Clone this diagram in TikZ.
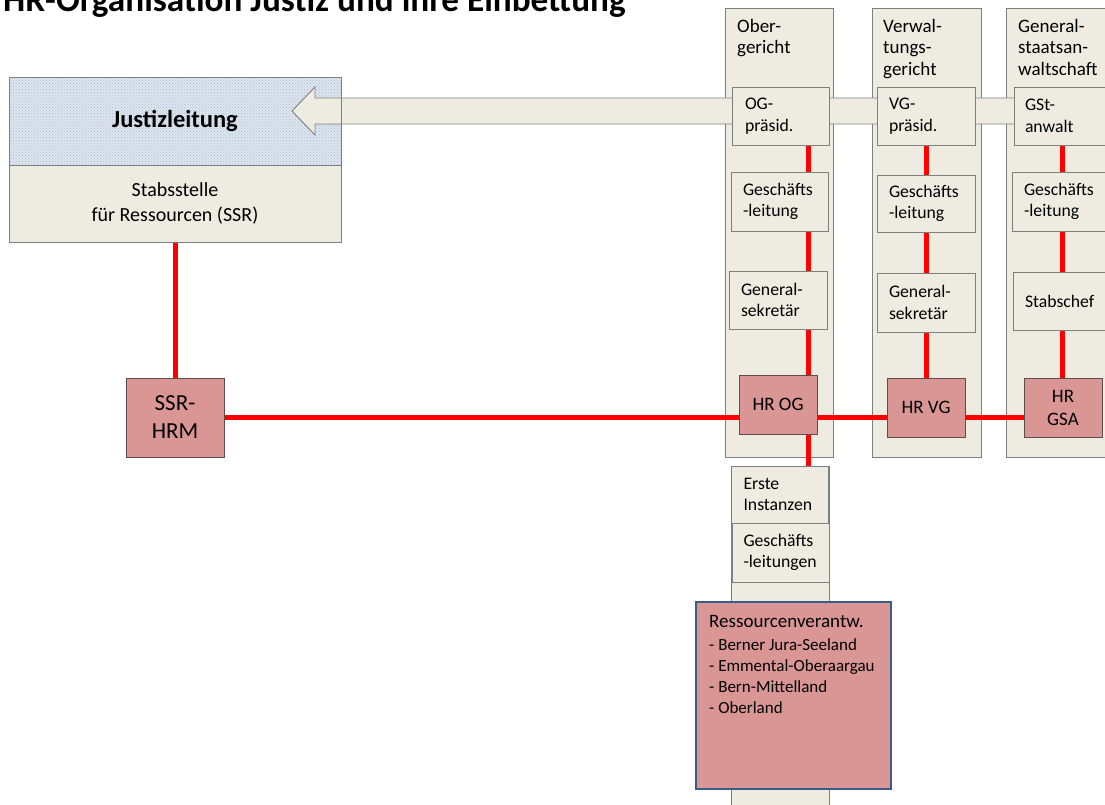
\documentclass[tikz,border=0pt]{standalone}
\usepackage{fontspec}
\setmainfont{Carlito}
\usetikzlibrary{patterns}
\definecolor{beige}{HTML}{EEECE1}
\definecolor{hrfill}{HTML}{D99694}
\definecolor{bord}{HTML}{7F7F7F}
\definecolor{hrbord}{HTML}{5F4B4B}
\definecolor{redl}{HTML}{FF0000}
\definecolor{bluebord}{HTML}{385D8A}
\definecolor{jlfill}{HTML}{DDE5EE}
\definecolor{jldot}{HTML}{A9BCD4}
\pgfdeclarelayer{bottom}
\pgfdeclarelayer{mid}
\pgfsetlayers{bottom,mid,main}
\begin{document}
\begin{tikzpicture}[x=1pt,y=-1pt,
  col/.style={draw=bord, fill=beige, line width=0.9pt, inner sep=0pt},
  bx/.style={draw=bord, fill=beige, line width=0.9pt, inner ysep=0pt, inner xsep=12pt, align=left, font=\fontsize{17.7}{21.5}\selectfont},
  hr/.style={draw=hrbord, fill=hrfill, line width=0.9pt, inner sep=0pt, align=center, font=\fontsize{19}{23}\selectfont},
  lbl/.style={inner sep=0pt, align=left, anchor=north west, font=\fontsize{19}{21.5}\selectfont},
  redline/.style={draw=redl, line width=5pt},
  arrowshape/.style={draw=bord, fill=beige, line width=0.9pt, line join=miter}
]
\useasboundingbox (0,0) rectangle (1105,805);

% title (cut at the top edge as in the original)
\node[anchor=base west, inner sep=0pt, font=\bfseries\fontsize{35.2}{40}\selectfont] (title) at (3,11.5) {HR-Organisation Justiz und ihre Einbettung};

\begin{pgfonlayer}{bottom}
% Justizleitung background
\fill[jlfill] (9,77) rectangle (341,165);
\fill[pattern=crosshatch dots, pattern color=jldot] (9,77) rectangle (341,165);
% columns
\node[col, minimum width=108pt, minimum height=449pt] (colog) at (779,232.5) {};
\node[col, minimum width=109pt, minimum height=449pt] (colvg) at (926.5,232.5) {};
\node[col, minimum width=114pt, minimum height=449pt] (colgsa) at (1063,232.5) {};
\node[col, minimum width=98pt, minimum height=344pt] (erstecol) at (780,638) {};
\end{pgfonlayer}

\node[draw=bord, line width=0.9pt, minimum width=332pt, minimum height=88pt, inner sep=0pt, font=\bfseries\fontsize{24.5}{28}\selectfont] (jl) at (175,121) {Justizleitung};
\node[draw=bord, fill=beige, line width=0.9pt, minimum width=332pt, minimum height=77pt, inner sep=0pt, align=center, font=\fontsize{20}{25}\selectfont] (ssr) at (175,203.5) {Stabsstelle\\für Ressourcen (SSR)};

\node[lbl] (tog) at (737,19) {Ober-\\gericht};
\node[lbl] (tvg) at (883,19) {Verwal-\\tungs-\\gericht};
\node[lbl] (tgsa) at (1018,19) {General-\\staatsan-\\waltschaft};

\begin{pgfonlayer}{mid}
% block arrow towards Justizleitung
\draw[arrowshape] (1115,98) -- (315,98) -- (315,87) -- (292,111) -- (315,135) -- (315,124) -- (1115,124) -- cycle;
\end{pgfonlayer}

\node[bx, minimum width=97pt, minimum height=58pt, text width=71pt, inner xsep=13pt] (ogp) at (780.5,116) {OG-\\präsid.};
\node[bx, minimum width=98pt, minimum height=58pt, text width=74pt] (vgp) at (926,116) {VG-\\präsid.};
\node[bx, minimum width=106pt, minimum height=58pt, text width=84pt, inner xsep=11pt] (gsp) at (1067,116) {GSt-\\anwalt};

\node[bx, minimum width=97pt, minimum height=59pt, text width=73pt] (ogg) at (779.5,201.5) {Geschäfts\\-leitung};
\node[bx, minimum width=98pt, minimum height=57pt, text width=74pt] (vgg) at (926,203.5) {Geschäfts\\-leitung};
\node[bx, minimum width=108pt, minimum height=59pt, text width=84pt] (gsg) at (1066,201.5) {Geschäfts\\-leitung};

\node[bx, minimum width=98pt, minimum height=58pt, text width=74pt] (ogs) at (778,300) {General-\\sekretär};
\node[bx, minimum width=98pt, minimum height=59pt, text width=74pt] (vgs) at (926,302.5) {General-\\sekretär};
\node[bx, minimum width=107pt, minimum height=58pt, text width=83pt] (gss) at (1066.5,301) {Stabschef};

\node[hr, minimum width=98pt, minimum height=79pt, font=\fontsize{23}{28}\selectfont] (ssrhrm) at (175,417.5) {SSR-\\HRM};
\node[hr, minimum width=78pt, minimum height=59pt] (hrog) at (778,404.5) {HR OG};
\node[hr, minimum width=78pt, minimum height=59pt] (hrvg) at (926,407.5) {HR VG};
\node[hr, minimum width=78pt, minimum height=59pt] (hrgsa) at (1063,407.5) {HR\\GSA};

\node[bx, minimum width=97pt, minimum height=57pt, text width=73pt] (erste) at (780,494.5) {Erste\\Instanzen};
\node[bx, minimum width=97pt, minimum height=59pt, text width=73pt, inner xsep=11.5pt, text width=74pt] (ergl) at (780.5,552.5) {Geschäfts\\-leitungen};

% red connectors (below the boxes)
\coordinate (ogx) at (808,0);
\coordinate (gsx) at (1062,0);
\begin{pgfonlayer}{mid}
\draw[redline] (ssr.south) -- (ssrhrm.north);
\draw[redline] (ssrhrm.east) -- (ssrhrm.east -| hrgsa.west);
\draw[redline] (ogp.south -| ogx) -- (erste.north -| ogx);
\draw[redline] (vgp.south) -- (hrvg.north);
\draw[redline] (gsp.south -| gsx) -- (hrgsa.north -| gsx);
\end{pgfonlayer}

% Ressourcenverantwortliche
\node[draw=bluebord, fill=hrfill, line width=2.5pt, minimum width=195pt, minimum height=187pt, inner sep=0pt] (res) at (793.5,695.5) {};
\node[inner sep=0pt, anchor=north west, align=left, font=\fontsize{19}{23}\selectfont] (restitle) at (709,615) {Ressourcenverantw.};
\node[inner sep=0pt, anchor=north west, align=left, font=\fontsize{17}{21}\selectfont] (reslist) at (709,638) {- Berner Jura-Seeland\\- Emmental-Oberaargau\\- Bern-Mittelland\\- Oberland};
\end{tikzpicture}
\end{document}
